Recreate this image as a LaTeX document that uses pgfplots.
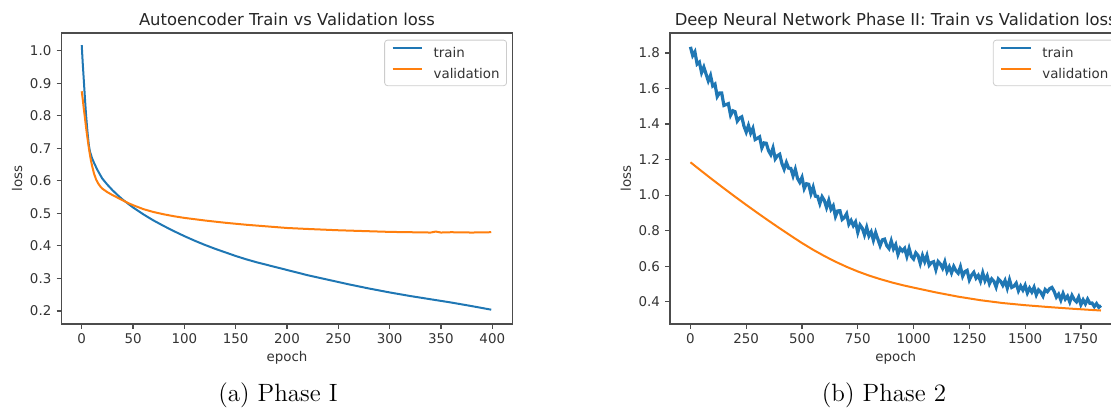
\documentclass[border=0pt]{standalone}
\usepackage{fontspec}
\usepackage{pgfplots}
\pgfplotsset{compat=1.18}
\newfontfamily\mpl{DejaVu Sans}
\definecolor{tabblue}{RGB}{31,119,180}
\definecolor{taborange}{RGB}{255,127,14}
\newcommand\tickfont{\mpl\fontsize{6.7}{8}\selectfont}
\newcommand\titlefont{\mpl\fontsize{8.2}{9.8}\selectfont}

\pgfplotsset{
  mpl/.style = {
    scale only axis,
    width = 225.8pt,
    height = 145.5pt,
    anchor = south west,
    axis line style = {black!70, line width = 0.6pt},
    tick align = outside,
    tick pos = left,
    major tick length = 2.3pt,
    tick style = {black!70, line width = 0.6pt},
    scaled ticks = false,
    /pgf/number format/assume math mode = true,
    /pgf/number format/1000 sep = {},
    tick label style = {font = \tickfont, text = black!80, inner sep = 0pt},
    xticklabel style = {anchor = north, yshift = -2.3pt},
    yticklabel style = {anchor = east, xshift = -2.45pt,
      /pgf/number format/.cd, fixed, fixed zerofill, precision = 1},
    xlabel style = {at = {(axis description cs:0.5,-0.1168)}, anchor = center,
      font = \tickfont, text = black!80},
    ylabel style = {at = {(axis description cs:-0.0974,0.5)}, anchor = center,
      font = \tickfont, text = black!80},
    title style = {at = {(axis description cs:0.5,1)}, anchor = base,
      yshift = -2pt, font = \titlefont, text = black!85},
    legend cell align = left,
    legend style = {
      at = {(axis description cs:1,1)}, anchor = north east,
      xshift = -2.9pt, yshift = -3.35pt,
      font = \tickfont, text = black!80,
      draw = black!20, fill = white, rounded corners = 1.5pt,
      inner xsep = 3.5pt, inner ysep = 3.5pt,
      row sep = 5pt, column sep = 5.3pt,
      nodes = {inner sep = 0pt, text height = 5pt, text depth = 0pt},
    },
    legend image code/.code = {\draw[#1, line width = 1pt] (0pt,2.4pt) -- (14.7pt,2.4pt);},
  },
}

\begin{document}
\begin{tikzpicture}
\path[use as bounding box] (0,0) rectangle (555.5pt,204pt);

% Phase I: autoencoder
\begin{axis}[
  mpl,
  at = {(30.6pt,42pt)},
  xmin = -20, xmax = 420,
  ymin = 0.160, ymax = 1.054,
  xtick = {0,50,100,150,200,250,300,350,400},
  ytick = {0.2,0.3,0.4,0.5,0.6,0.7,0.8,0.9,1.0},
  title = {Autoencoder Train vs Validation loss},
  xlabel = {epoch},
  ylabel = {loss},
]
  \addplot[tabblue, line width = 1pt] coordinates {
    (0,1.017)(1,0.960)(2,0.910)(3,0.860)(4,0.812)(5,0.772)(6,0.737)(7,0.708)
    (8,0.690)(10,0.670)(12,0.655)(15,0.635)(18,0.618)(20,0.607)(25,0.588)
    (30,0.571)(35,0.556)(40,0.542)(45,0.530)(50,0.518)(60,0.497)(70,0.478)
    (80,0.461)(90,0.445)(100,0.430)(110,0.416)(120,0.403)(130,0.391)(140,0.380)
    (150,0.369)(160,0.359)(170,0.350)(180,0.342)(190,0.334)(200,0.326)(220,0.310)
    (240,0.296)(250,0.289)(260,0.282)(280,0.269)(300,0.257)(320,0.246)(340,0.236)
    (350,0.231)(360,0.226)(380,0.215)(399,0.204)
  };
  \addlegendentry{train}
  \addplot[taborange, line width = 1pt] coordinates {
    (0,0.875)(1,0.850)(2,0.822)(3,0.797)(4,0.770)(5,0.745)(6,0.722)(7,0.700)
    (8,0.680)(9,0.662)(10,0.647)(12,0.622)(14,0.604)(16,0.592)(18,0.583)
    (20,0.576)(25,0.565)(30,0.556)(35,0.548)(40,0.540)(45,0.532)(50,0.525)
    (60,0.513)(70,0.504)(80,0.497)(90,0.491)(100,0.486)(120,0.478)(140,0.471)
    (160,0.465)(180,0.460)(200,0.455)(220,0.452)(250,0.448)(280,0.445)
    (300,0.443)(320,0.442)(340,0.441)(345,0.444)(350,0.441)(360,0.442)
    (380,0.441)(399,0.442)
  };
  \addlegendentry{validation}
\end{axis}

% Phase 2: deep neural network
\begin{axis}[
  mpl,
  at = {(334.95pt,42pt)},
  xmin = -92, xmax = 1932,
  ymin = 0.274, ymax = 1.913,
  xtick = {0,250,500,750,1000,1250,1500,1750},
  ytick = {0.4,0.6,0.8,1.0,1.2,1.4,1.6,1.8},
  title = {Deep Neural Network Phase II: Train vs Validation loss},
  xlabel = {epoch},
  ylabel = {loss},
]
  \addplot[tabblue, line width = 1.6pt] coordinates {
    (0,1.835)(10,1.786)(20,1.807)(30,1.738)(40,1.749)(50,1.690)(60,1.721)
    (70,1.682)(80,1.643)(90,1.674)(100,1.615)(110,1.625)(120,1.555)(130,1.575)
    (140,1.575)(150,1.505)(160,1.510)(170,1.515)(180,1.450)(190,1.475)
    (200,1.470)(210,1.417)(220,1.434)(230,1.441)(240,1.388)(250,1.355)
    (260,1.392)(270,1.349)(280,1.376)(290,1.313)(300,1.320)(310,1.328)
    (320,1.266)(330,1.294)(340,1.292)(350,1.250)(360,1.228)(370,1.266)
    (380,1.204)(390,1.222)(400,1.230)(410,1.178)(420,1.146)(430,1.184)
    (440,1.152)(450,1.150)(460,1.108)(470,1.146)(480,1.094)(490,1.072)
    (500,1.100)(510,1.037)(520,1.064)(530,1.061)(540,1.008)(550,1.045)
    (560,0.994)(570,0.993)(580,0.952)(590,0.991)(600,0.970)(610,0.930)
    (620,0.970)(630,0.920)(640,0.940)(650,0.880)(660,0.911)(670,0.912)
    (680,0.863)(690,0.874)(700,0.895)(710,0.836)(720,0.857)(730,0.828)
    (740,0.849)(750,0.790)(760,0.832)(770,0.814)(780,0.776)(790,0.818)
    (800,0.770)(810,0.793)(820,0.746)(830,0.789)(840,0.752)(850,0.715)
    (860,0.748)(870,0.752)(880,0.715)(890,0.699)(900,0.742)(910,0.697)
    (920,0.721)(930,0.666)(940,0.700)(950,0.685)(960,0.700)(970,0.655)
    (980,0.700)(990,0.655)(1000,0.640)(1010,0.675)(1020,0.660)(1030,0.615)
    (1040,0.660)(1050,0.625)(1060,0.660)(1070,0.605)(1080,0.620)(1090,0.625)
    (1100,0.580)(1110,0.626)(1120,0.612)(1130,0.588)(1140,0.624)(1150,0.570)
    (1160,0.596)(1170,0.562)(1180,0.598)(1190,0.574)(1200,0.560)(1210,0.596)
    (1220,0.543)(1230,0.569)(1240,0.576)(1250,0.522)(1260,0.549)(1270,0.565)
    (1280,0.532)(1290,0.548)(1300,0.515)(1310,0.562)(1320,0.518)(1330,0.545)
    (1340,0.501)(1350,0.528)(1360,0.515)(1370,0.482)(1380,0.528)(1390,0.515)
    (1400,0.492)(1410,0.519)(1420,0.476)(1430,0.523)(1440,0.480)(1450,0.487)
    (1460,0.504)(1470,0.461)(1480,0.488)(1490,0.465)(1500,0.492)(1510,0.449)
    (1520,0.476)(1530,0.454)(1540,0.481)(1550,0.438)(1560,0.466)(1570,0.453)
    (1580,0.431)(1590,0.468)(1600,0.456)(1610,0.473)(1620,0.480)(1630,0.458)
    (1640,0.425)(1650,0.442)(1660,0.409)(1670,0.446)(1680,0.414)(1690,0.431)
    (1700,0.398)(1710,0.435)(1720,0.412)(1730,0.399)(1740,0.426)(1750,0.383)
    (1760,0.410)(1770,0.387)(1780,0.414)(1790,0.391)(1800,0.392)(1810,0.372)
    (1820,0.389)(1830,0.368)(1840,0.378)
  };
  \addlegendentry{train}
  \addplot[taborange, line width = 1pt] coordinates {
    (0,1.185)(50,1.135)(100,1.086)(150,1.038)(200,0.991)(250,0.945)
    (300,0.900)(350,0.856)(400,0.813)(450,0.771)(500,0.730)(550,0.692)
    (600,0.657)(650,0.625)(700,0.596)(750,0.570)(800,0.547)(850,0.527)
    (900,0.509)(950,0.493)(1000,0.479)(1100,0.452)(1200,0.428)(1300,0.408)
    (1400,0.392)(1500,0.380)(1600,0.370)(1700,0.361)(1800,0.353)(1840,0.350)
  };
  \addlegendentry{validation}
\end{axis}

\node[font = \fontsize{12.5}{14}\selectfont, anchor = base] at (139pt,3.5pt) {(a) Phase I};
\node[font = \fontsize{12.5}{14}\selectfont, anchor = base] at (442pt,3.5pt) {(b) Phase 2};
\end{tikzpicture}
\end{document}
